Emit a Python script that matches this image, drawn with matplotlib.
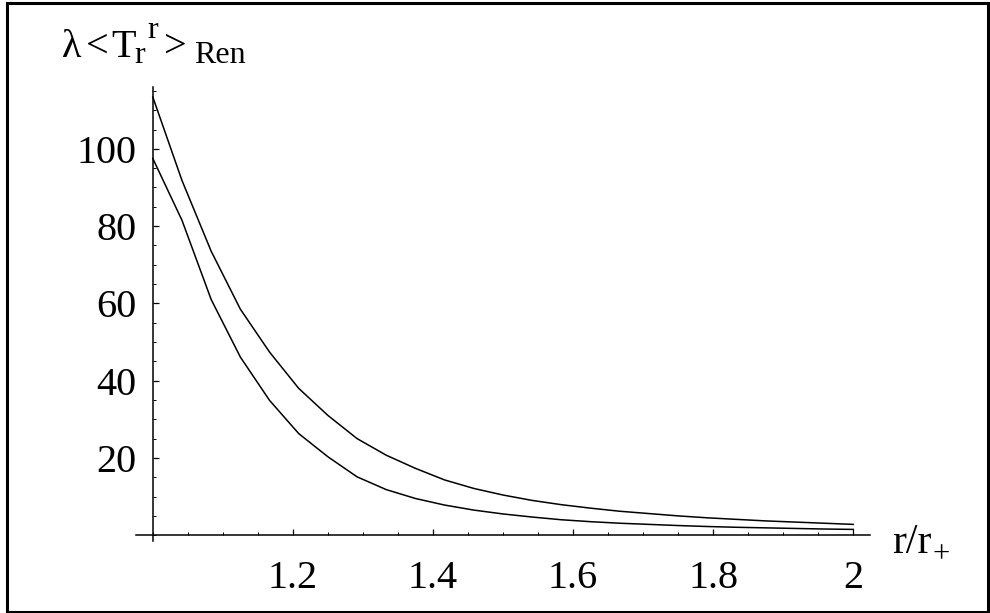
import numpy as np
import matplotlib
matplotlib.use("Agg")
import matplotlib.pyplot as plt
from matplotlib.ticker import MultipleLocator, FixedLocator, FixedFormatter
from matplotlib.patches import Rectangle

plt.rcParams['font.family'] = ['Liberation Serif', 'DejaVu Serif']

# sample points r/r+ (25 points, as in the original plot)
r = np.linspace(1.0, 2.0, 25)

# upper curve
t_upper = [113.4, 91.8, 73.5, 58.5, 47.4, 38.0, 31.0, 25.0, 20.7, 17.3,
           14.3, 12.1, 10.4, 9.0, 7.9, 7.0, 6.2, 5.6, 5.0, 4.5,
           4.1, 3.7, 3.4, 3.1, 2.8]
# lower curve
t_lower = [97.5, 81.5, 61.0, 46.1, 34.9, 26.3, 20.3, 15.1, 11.8, 9.5,
           7.8, 6.5, 5.5, 4.7, 4.0, 3.5, 3.1, 2.8, 2.5, 2.25,
           2.05, 1.9, 1.75, 1.6, 1.5]

xticks = [1.2, 1.4, 1.6, 1.8, 2.0]
xtick_labels = ['1.2', '1.4', '1.6', '1.8', '2']
yticks = [20, 40, 60, 80, 100]
ytick_labels = ['20', '40', '60', '80', '100']

W, H = 990, 613
fig = plt.figure(figsize=(W / 100, H / 100), dpi=100)

# axes box in pixels: x 136..870, y 87..541
x0, x1, y0, y1 = 136, 870, 87, 541
ax = fig.add_axes([x0 / W, 1 - y1 / H, (x1 - x0) / W, (y1 - y0) / H])
ax.set_xlim(0.976, 2.024)
ax.set_ylim(-1.5, 116)

ax.plot(r, t_upper, color='black', lw=1.1)
ax.plot(r, t_lower, color='black', lw=1.1)

for s in ['top', 'right']:
    ax.spines[s].set_visible(False)
ax.spines['left'].set_position(('data', 1.0))
ax.spines['bottom'].set_position(('data', 0.0))
ax.spines['left'].set_linewidth(1.1)
ax.spines['bottom'].set_linewidth(1.1)

ax.xaxis.set_major_locator(FixedLocator(xticks))
ax.xaxis.set_major_formatter(FixedFormatter(xtick_labels))
ax.yaxis.set_major_locator(FixedLocator(yticks))
ax.yaxis.set_major_formatter(FixedFormatter(ytick_labels))
ax.xaxis.set_minor_locator(MultipleLocator(0.05))
ax.yaxis.set_minor_locator(MultipleLocator(5))

ax.tick_params(axis='both', which='major', direction='in', length=4, width=0.9,
               labelsize=29)
ax.tick_params(axis='both', which='minor', direction='in', length=2.3, width=0.7)
ax.tick_params(axis='x', which='major', pad=18)
ax.tick_params(axis='y', which='major', pad=12)
ax.patch.set_visible(False)


def put(x, y, s, size):
    # place text by pixel position of its left edge / baseline
    fig.text(x / W, 1 - y / H, s, fontsize=size, ha='left', va='baseline')


# y axis label: λ<T_r^r >_Ren
put(62, 57, 'λ', 29)
put(86, 57, '<', 29)
put(111, 57, 'T', 29)
put(134, 63, 'r', 23)
put(147, 38, 'r', 23)
put(164, 57, '>', 29)
put(194, 63, 'Ren', 23)

# x axis label: r/r_+
put(892, 553, 'r/r', 30)
put(932, 562, '+', 22)

# outer frame
fig.patches.append(Rectangle((7 / W, 1.5 / H), (988 - 7) / W, (611 - 2) / H,
                             transform=fig.transFigure, fill=False,
                             edgecolor='black', lw=2.2))

fig.savefig('out.png', dpi=100)
